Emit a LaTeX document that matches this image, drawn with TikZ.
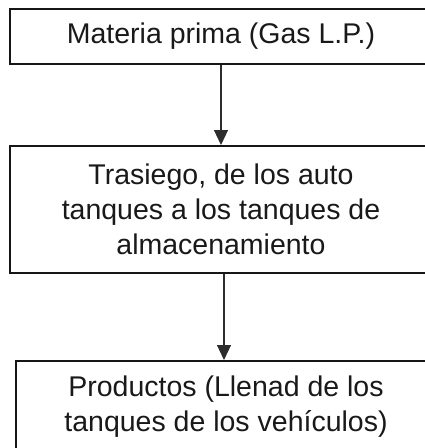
\documentclass[tikz,border=0pt]{standalone}
\usepackage{fontspec}
\setmainfont{Liberation Sans}
\usetikzlibrary{arrows.meta}
\definecolor{linecol}{RGB}{22,22,22}
\definecolor{arrowcol}{RGB}{45,45,45}
\definecolor{textcol}{RGB}{25,25,25}
\begin{document}
\begin{tikzpicture}[x=1pt,y=1pt,
  box/.style={draw=linecol, line width=2pt, minimum width=422pt, inner sep=0pt},
  txt/.style={font=\fontsize{28.5}{35}\selectfont, align=center, text=textcol},
  flow/.style={draw=arrowcol, fill=arrowcol, line width=1.1pt, -{Triangle[width=14pt,length=15pt]}}]
\useasboundingbox (0,0) rectangle (425,-448);
\node[box, txt, minimum height=55pt] (matprima) at (221,-36) {Materia prima (Gas L.P.)};
\node[box, txt, minimum height=127pt] (trasiego) at (221,-209.5) {Trasiego, de los auto\\tanques a los tanques de\\almacenamiento};
\node[box, minimum height=120pt, anchor=north west] (productos) at (15,-360) {};
\node[txt] (prodtxt) at (226,-407) {Productos (Llenad de los\\tanques de los vehículos)};
\draw[flow] (matprima.south) -- (trasiego.north);
\draw[flow] ([xshift=3pt]trasiego.south) -- ([xshift=3pt]trasiego.south |- productos.north);
\end{tikzpicture}
\end{document}
